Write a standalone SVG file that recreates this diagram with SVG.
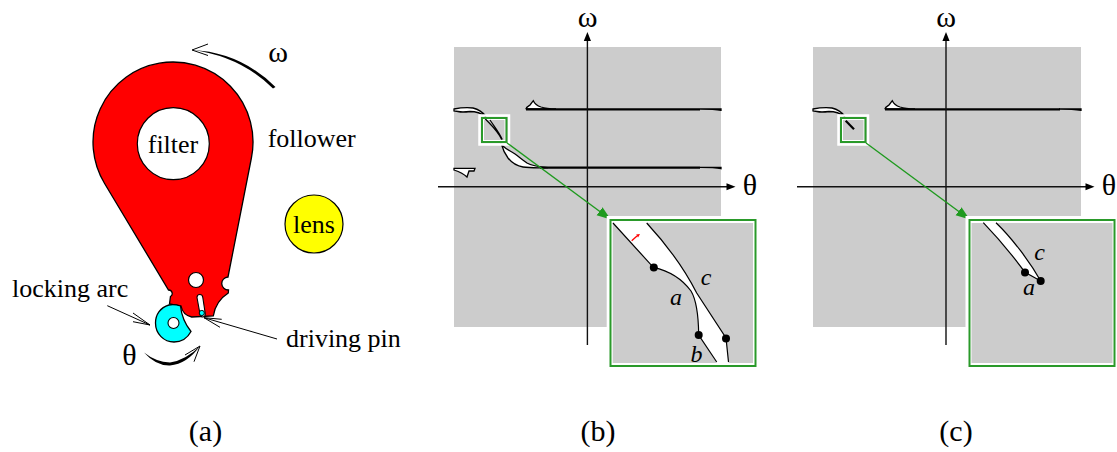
<svg xmlns="http://www.w3.org/2000/svg" width="1117" height="452" viewBox="0 0 1117 452">
<style>
text{font-family:"Liberation Serif","Times New Roman",serif;fill:#000}
.l{font-size:26px}
.cap{font-size:30px;text-anchor:middle}
.sym{font-size:30px;text-anchor:middle}
.it{font-size:24px;font-style:italic;text-anchor:middle}
.gray{fill:#ccc}
.band{fill:#fff;stroke:#000;stroke-width:1.300}
.thin{fill:none;stroke:#000;stroke-width:1.200}
.thick{fill:none;stroke:#000;stroke-width:2.200}
.ax{fill:none;stroke:#111;stroke-width:1.400}
.gbox{fill:none;stroke:#2a9a2a;stroke-width:2}
.halo{fill:none;stroke:#fff;stroke-width:2.500}
.inhalo{fill:none;stroke:#fff;stroke-width:1}
.gline{stroke:#1f9a1f;stroke-width:1.400;fill:none;marker-end:url(#g)}
.bar{fill:none;stroke:#000;stroke-width:1}
</style>
<defs>
<marker id="g" markerUnits="userSpaceOnUse" markerWidth="16" markerHeight="12" refX="13" refY="5" orient="auto"><path d="M0 0L14 5L0 10Z" fill="#1f9a1f"/></marker>
</defs>
<rect width="1117" height="452" fill="#fff"/>

<g id="panel-a">
<g id="follower">
<path d="M104.600 183.500A80 80 0 1 1 251.400 158L228 277A3.500 3.500 0 0 0 228.500 290L228.300 293C222 297 215 305 213.300 316L191.700 317A14 14 0 0 1 181 306L169.500 304L170.500 296.500A3.500 3.500 0 0 0 168.500 290Z" fill="#f00" stroke="#000" stroke-width="1.300"/>
<circle cx="173.300" cy="143.700" r="36" fill="#fff" stroke="#000" stroke-width="1.200"/>
<circle cx="196" cy="280" r="7.500" fill="#fff" stroke="#000" stroke-width="1.200"/>
<path d="M197 297.500C197 293.500 202.500 293.500 202.800 297.500L205.300 314C205.300 318 200.300 318 200 314Z" fill="#fff" stroke="#000" stroke-width="1.100"/>
<circle cx="201.800" cy="313" r="2.600" fill="#0ff" stroke="#000" stroke-width="1"/>
<text class="l" x="173" y="153" text-anchor="middle">filter</text>
</g>
<g id="locking-arc">
<path d="M180.500 306C176 304.500 172 304.500 169 305C160 307.500 155.500 315 155.500 323C155.500 334 164 342 174 342C181 342 187.500 338 191 331.500C185 324 181.500 316 180.500 306Z" fill="#0ff" stroke="#000" stroke-width="1.300"/>
<circle cx="173.500" cy="323" r="5.500" fill="#fff" stroke="#000" stroke-width="1.100"/>
</g>
<g id="lens">
<circle cx="314" cy="224" r="29" fill="#ff0" stroke="#000" stroke-width="1.200"/>
<text class="l" x="314" y="233" text-anchor="middle">lens</text>
</g>
<g id="a-connectors">
<path d="M192 50Q240 52 275.500 87L273 88.500Q240 56 192 50Z"/>
<path class="bar" d="M208 44L192 50L208 55.500"/>
<path d="M144 352.500Q156 366 170 365.500Q187 364 200 346Q186 360 170 362.500Q156 362 144 352.500Z"/>
<path class="bar" d="M185 355L200 346L194 361.700"/>
<path class="bar" d="M107.300 305.700L150 325M133 313L150 325L133 321.700"/>
<path class="bar" d="M277 339L204 317.700M221.700 319.300L204 317.700L220 327.300"/>
</g>
<text class="sym" x="278" y="62">ω</text>
<text class="sym" x="129.500" y="365">θ</text>
<text class="l" x="267.700" y="147">follower</text>
<text class="l" x="12" y="297">locking arc</text>
<text class="l" x="286" y="347">driving pin</text>
<text class="cap" x="205.500" y="441">(a)</text>
</g>

<g id="panel-b">
<rect class="gray" x="454" y="47" width="267" height="280"/>
<path class="band" d="M454 109C462 107.500 468 107.500 473 108C479 109.500 483 112.500 486 116.500C481 113 476 111.500 470 111.500C466 112 460 112 458 111.500L454 111Z"/>
<path class="band" d="M501.700 145C503 150 505 154 508 158C512 163 516 166 523 167C529 168 535 168 548 167.700C541 167 532 166 527 163C521 159 516 154 511 151.500C508 150 505 148 501.700 145Z"/>
<path class="thick" d="M540 167.700H700"/>
<path class="band" d="M700 167.300C708 167.300 716 167.600 721 168.600V167.300Z"/>
<path class="band" d="M526 109.300C526 106.500 529 106 530 105L533.300 100.700C535 104.500 538 106 541 107C546 108.500 551 108.800 556 109H526Z"/>
<path class="thick" d="M526 109.300H700"/>
<path class="band" d="M700 109C708 109 716 109.300 721 110.300V109Z"/>
<path class="band" d="M454 168.300H475L474 171H469L467 177C464 174 460 172 454 170Z"/>
<g id="b-small-box">
<rect class="gray" x="482" y="118" width="25" height="24"/>
<rect x="479.500" y="115.500" width="29.500" height="29" class="halo"/>
<rect x="483.500" y="119.500" width="21.500" height="21" class="inhalo"/>
<path class="thin" d="M485 118.500C491 125 498 131 501.700 139.500M490 120C494 126 499 132 502.300 139.500"/>
<rect class="gbox" x="482" y="118" width="24.500" height="24"/>
</g>
<path class="ax" d="M587.400 345V38"/>
<path d="M587.400 32L591 41H583.800Z"/>
<path class="ax" d="M438 186.800H729"/>
<path d="M735.500 186.800L726.500 190.300V183.300Z"/>
<line class="gline" x1="507" y1="143" x2="610" y2="219"/>
<text class="sym" x="587.500" y="27">ω</text>
<text class="sym" x="750" y="195">θ</text>
<g id="b-inset">
<rect x="606.700" y="216" width="153" height="153" fill="#fff"/>
<rect class="gray" x="612.700" y="223" width="140.300" height="140"/>
<path d="M613 223L653.300 267.300C670 271 683 280 691 291C697 301 698.500 318 698.700 335L716.700 363H728.500L726 338L696.700 293C685 270 667 245 646.700 223Z" fill="#fff"/>
<path class="thin" d="M613 223L653.300 267.300C670 271 683 280 691 291C697 301 698.500 318 698.700 335L716.700 362"/>
<path class="thin" d="M646.700 223C667 245 685 270 696.700 293L726 338L728.500 362"/>
<path d="M631.700 240.700L637 236" stroke="#f00" stroke-width="1.300" fill="none"/>
<path d="M640 234L636.200 234.600L638 237.400Z" fill="#f00"/>
<circle cx="653.800" cy="267.500" r="4"/><circle cx="698.700" cy="335" r="4"/><circle cx="726" cy="338.500" r="4"/>
<rect class="gbox" x="610.500" y="220" width="145" height="146"/>
<text class="it" x="706" y="285">c</text>
<text class="it" x="676" y="305">a</text>
<text class="it" x="696.500" y="361.500">b</text>
</g>
<text class="cap" x="598" y="441">(b)</text>
</g>

<g id="panel-c">
<rect class="gray" x="813" y="47" width="268" height="280"/>
<path class="band" d="M813 109C821 107.500 827 107.500 832 108C838 109.500 842 112.500 845 116.500C840 113 835 111.500 829 111.500C825 112 819 112 817 111.500L813 111Z"/>
<path class="band" d="M885 109.300C885 106.500 888 106 889 105L892.300 100.700C894 104.500 897 106 900 107C905 108.500 910 108.800 915 109H885Z"/>
<path class="thick" d="M885 109.300H1060"/>
<path class="band" d="M1059 109C1067 109 1075 109.300 1081 110.300V109Z"/>
<g id="c-small-box">
<rect class="gray" x="841" y="118" width="25" height="24"/>
<rect x="838.500" y="115.500" width="29.500" height="29" class="halo"/>
<rect x="842.500" y="119.500" width="21.500" height="21" class="inhalo"/>
<path d="M845.700 120.700L854 129.300" stroke="#000" stroke-width="2.200" fill="none"/>
<rect class="gbox" x="841" y="118" width="24.500" height="24"/>
</g>
<path class="ax" d="M946 345V38"/>
<path d="M946 32L949.600 41H942.400Z"/>
<path class="ax" d="M797 186.800H1088"/>
<path d="M1094.500 186.800L1085.500 190.300V183.300Z"/>
<line class="gline" x1="866" y1="143" x2="969" y2="219"/>
<text class="sym" x="946" y="27">ω</text>
<text class="sym" x="1109" y="195">θ</text>
<g id="c-inset">
<rect x="965.500" y="216" width="151" height="153" fill="#fff"/>
<rect class="gray" x="971.500" y="223" width="141" height="140"/>
<path d="M983.300 222.700C997 237 1013 256 1025 272.300L1040.700 281C1030 262 1012 238 996 222.700Z" fill="#fff"/>
<path class="thin" d="M983.300 222.700C997 237 1013 256 1025 272.300L1040.700 281C1030 262 1012 238 996 222.700"/>
<circle cx="1025" cy="272.500" r="4"/><circle cx="1040.700" cy="281" r="4"/>
<rect class="gbox" x="969.500" y="220" width="145" height="146"/>
<text class="it" x="1039.500" y="260">c</text>
<text class="it" x="1029" y="295">a</text>
</g>
<text class="cap" x="956" y="441">(c)</text>
</g>
</svg>
